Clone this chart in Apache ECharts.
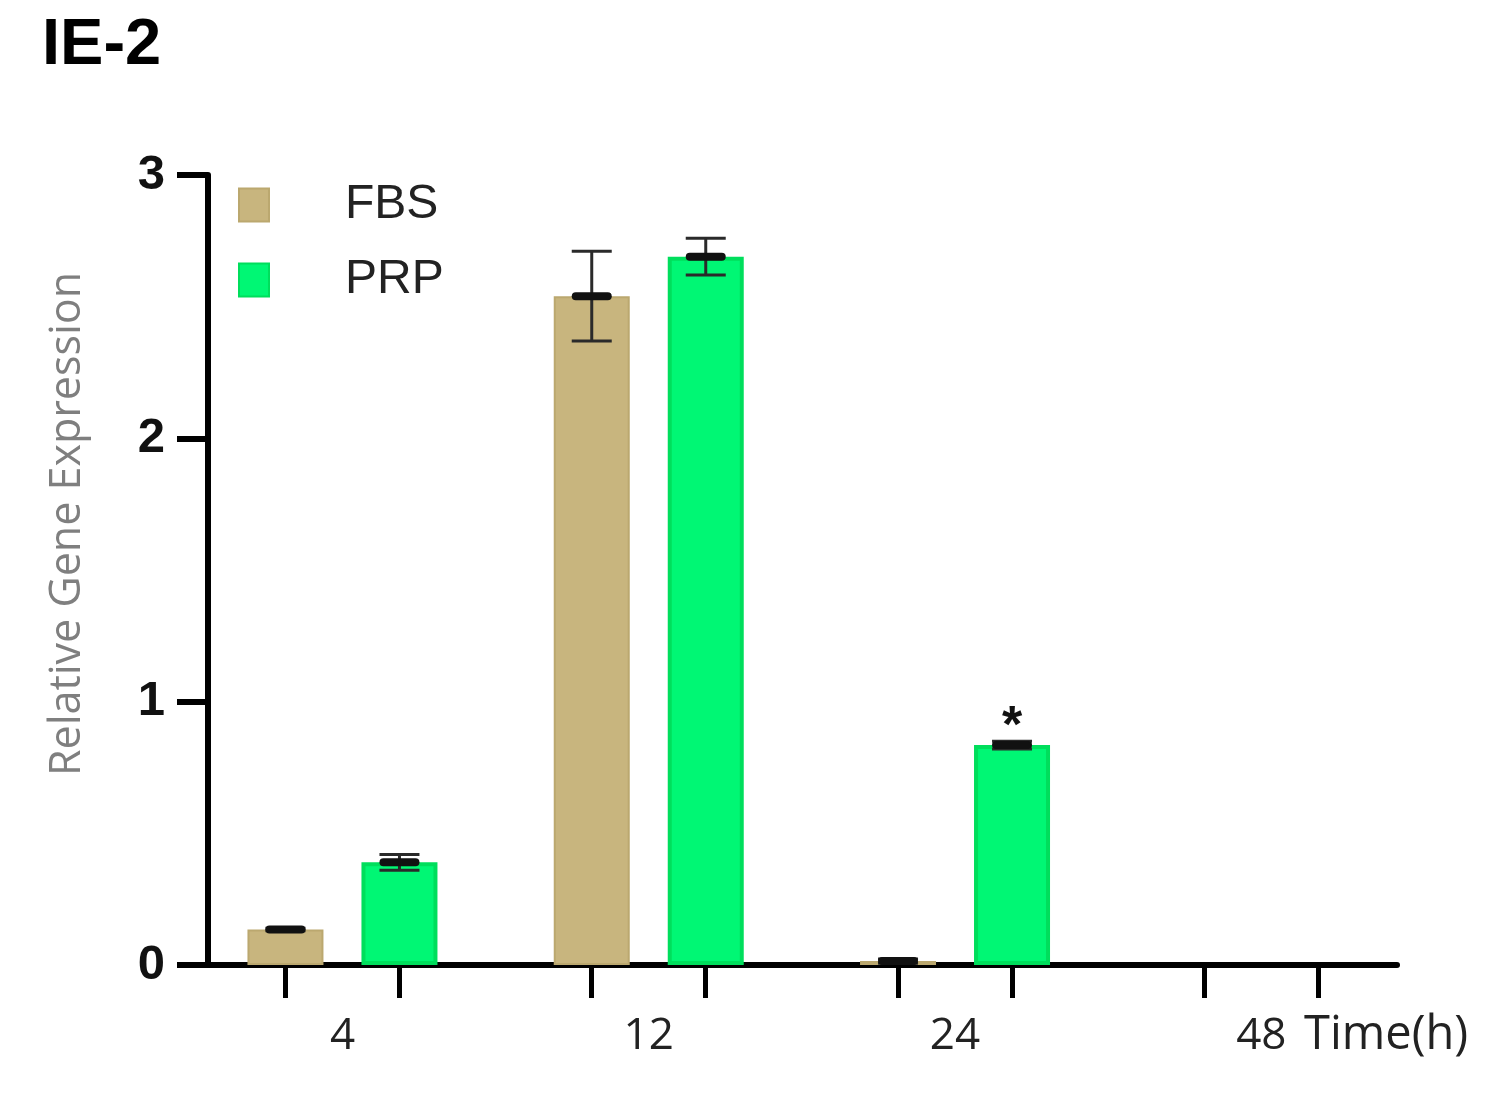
<!DOCTYPE html>
<html>
<head>
<meta charset="utf-8">
<title>IE-2</title>
<script src="https://cdn.jsdelivr.net/npm/echarts@6/dist/echarts.min.js"></script>
<style>
  html, body { margin: 0; padding: 0; background: #ffffff; }
  #chart { width: 1504px; height: 1095px; }
</style>
</head>
<body>
<div id="chart"></div>
<script>
// ---- data ----
var timeLabels = ['4', '12', '24', '48'];
var yTicks = [0, 1, 2, 3];
var fbsMean = [0.135, 2.54, 0.015, null];
var fbsErr  = [0.005, 0.17, 0.008, null];
var prpMean = [0.39, 2.69, 0.835, null];
var prpErr  = [0.03, 0.07, 0.015, null];
var prpSig  = ['', '', '*', ''];

// ---- layout / style constants ----
var GRID = { left: 208, right: 107, top: 175, bottom: 130 };
var CHART_W = 1504;
var X_MIN = -0.439, X_MAX = 3.443;
var BAR_W = 76, BAR_GAP = 0.5;
var PX_PER_UNIT = (CHART_W - GRID.left - GRID.right) / (X_MAX - X_MIN);
var OFFSET_PX = BAR_W * (1 + BAR_GAP) / 2;
var OFFSET_V = OFFSET_PX / PX_PER_UNIT;

var groupIdx = timeLabels.map(function (_, i) { return i; });
var tickVals = [];
groupIdx.forEach(function (i) { tickVals.push(i - OFFSET_V, i + OFFSET_V); });

function barData(means) {
  return means.map(function (m, i) { return [i, m]; });
}
function errData(means, errs, sig) {
  return means.map(function (m, i) {
    return [i, m == null ? NaN : m, errs[i] == null ? NaN : errs[i], sig ? sig[i] : ''];
  });
}

function makeErrRender(dx) {
  return function (params, api) {
    var m = api.value(1), e = api.value(2);
    if (isNaN(m)) return null;
    var sig = api.value(3) || '';
    var c = api.coord([api.value(0), m]);
    var hi = api.coord([api.value(0), m + e]);
    var lo = api.coord([api.value(0), Math.max(0, m - e)]);
    var x = c[0] + dx;
    var capHalf = 20, meanHalf = 16;
    var children = [
      { type: 'line', shape: { x1: x, y1: hi[1], x2: x, y2: lo[1] }, style: { stroke: '#2a2a2a', lineWidth: 3 } },
      { type: 'line', shape: { x1: x - capHalf, y1: hi[1], x2: x + capHalf, y2: hi[1] }, style: { stroke: '#2a2a2a', lineWidth: 3 } },
      { type: 'line', shape: { x1: x - capHalf, y1: lo[1], x2: x + capHalf, y2: lo[1] }, style: { stroke: '#2a2a2a', lineWidth: 3 } },
      { type: 'line', shape: { x1: x - meanHalf, y1: c[1], x2: x + meanHalf, y2: c[1] }, style: { stroke: '#111', lineWidth: 8, lineCap: 'round' } }
    ];
    if (sig && sig !== '0') {
      children.push({
        type: 'text',
        style: { x: x, y: hi[1] - 14, text: sig, font: 'bold 52px "Liberation Sans", Arial, sans-serif', fill: '#111', align: 'center', verticalAlign: 'middle' }
      });
    }
    return { type: 'group', children: children };
  };
}

var chart = echarts.init(document.getElementById('chart'), null, { renderer: 'canvas' });
chart.setOption({
  backgroundColor: '#ffffff',
  animation: false,
  title: {
    text: 'IE-2', left: 42, top: 14, padding: 0,
    textStyle: { fontFamily: '"Liberation Sans", Arial, sans-serif', fontWeight: 'bold', fontSize: 65, color: '#000' }
  },
  legend: {
    orient: 'vertical', left: 238, top: 181, padding: 0, itemWidth: 30, itemHeight: 33, itemGap: 27,
    icon: 'rect',
    textStyle: { fontFamily: '"Liberation Sans", Arial, sans-serif', fontSize: 48, color: '#222', padding: [0, 0, 0, 71] },
    data: ['FBS', 'PRP']
  },
  grid: GRID,
  xAxis: {
    type: 'value', min: X_MIN, max: X_MAX,
    splitLine: { show: false },
    axisLine: { show: true, lineStyle: { color: '#000', width: 6 } },
    axisTick: { show: true, customValues: tickVals, length: 33, lineStyle: { color: '#000', width: 5 } },
    axisLabel: {
      customValues: groupIdx, margin: 49,
      formatter: function (v) { return timeLabels[Math.round(v)]; },
      fontFamily: '"Open Sans", sans-serif', fontSize: 44, color: '#222'
    }
  },
  yAxis: {
    type: 'value', min: yTicks[0], max: yTicks[yTicks.length - 1], interval: 1,
    name: 'Relative Gene Expression', nameLocation: 'middle', nameGap: 119,
    nameTextStyle: { fontFamily: '"Open Sans", sans-serif', fontSize: 43, color: '#7f7f7f', padding: [0, 0, 0, 92] },
    splitLine: { show: false },
    axisLine: { show: true, onZero: false, lineStyle: { color: '#000', width: 6 } },
    axisTick: { show: true, length: 31, lineStyle: { color: '#000', width: 6 } },
    axisLabel: { margin: 43, fontFamily: '"Liberation Sans", Arial, sans-serif', fontWeight: 'bold', fontSize: 49, color: '#111' }
  },
  series: [
    {
      name: 'FBS', type: 'bar', data: barData(fbsMean), barWidth: BAR_W, barGap: (BAR_GAP * 100) + '%',
      itemStyle: { color: '#C8B57E', borderColor: '#BBA86F', borderWidth: 2 }
    },
    {
      name: 'PRP', type: 'bar', data: barData(prpMean), barWidth: BAR_W, barGap: (BAR_GAP * 100) + '%',
      itemStyle: { color: '#00F774', borderColor: '#00DE5C', borderWidth: 4 }
    },
    {
      name: 'FBS err', type: 'custom', renderItem: makeErrRender(-OFFSET_PX),
      data: errData(fbsMean, fbsErr, null), encode: { x: 0, y: 1 }, z: 5, silent: true
    },
    {
      name: 'PRP err', type: 'custom', renderItem: makeErrRender(OFFSET_PX),
      data: errData(prpMean, prpErr, prpSig), encode: { x: 0, y: 1 }, z: 5, silent: true
    }
  ],
  graphic: [
    {
      type: 'text', left: 1304, top: 1012,
      style: { text: 'Time(h)', font: '47px "Open Sans", sans-serif', fill: '#222' }
    }
  ]
});
</script>
</body>
</html>
